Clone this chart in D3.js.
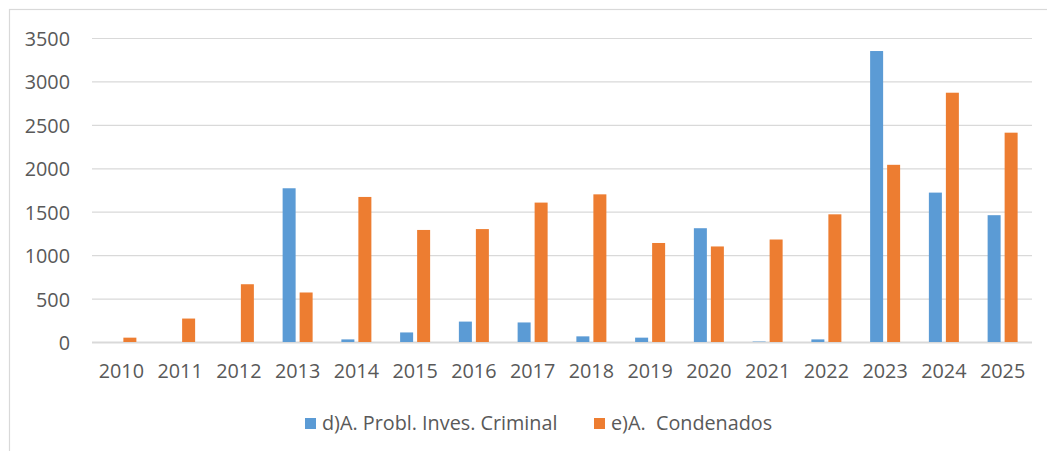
<!DOCTYPE html>
<html>
<head>
<meta charset="utf-8">
<script src="https://cdn.jsdelivr.net/npm/d3@7"></script>
<style>
  body { margin: 0; background: #fff; }
  text { font-family: "Open Sans", sans-serif; fill: #595959; }
</style>
</head>
<body>
<div id="chart"></div>
<script>

// years on the x axis
var years = ["2010", "2011", "2012", "2013", "2014", "2015", "2016", "2017",
             "2018", "2019", "2020", "2021", "2022", "2023", "2024", "2025"];

// d)A. Probl. Inves. Criminal
var problInves = [0, 0, 0, 1770, 30, 110, 235, 225, 65, 50, 1310, 5, 30, 3350, 1720, 1460];

// e)A.  Condenados
var condenados = [50, 270, 665, 570, 1670, 1290, 1300, 1605, 1700, 1140, 1100, 1180, 1470, 2040, 2870, 2410];

var seriesNames = ["d)A. Probl. Inves. Criminal", "e)A.  Condenados"];
var yTicks = [0, 500, 1000, 1500, 2000, 2500, 3000, 3500];

var colors = ["#5B9BD5", "#ED7D31"];

var width = 1047, height = 451;
var margin = { left: 92, right: 15, top: 38, bottom: 109 };
var fontSize = "19.8px";

var svg = d3.select("#chart")
  .append("svg")
  .attr("width", width)
  .attr("height", height);

// chart frame
svg.append("rect")
  .attr("x", 9.5).attr("y", 9.5)
  .attr("width", width + 20).attr("height", height + 20)
  .attr("fill", "none")
  .attr("stroke", "#d9d9d9")
  .attr("stroke-width", 1.2);

var x0 = d3.scaleBand()
  .domain(years)
  .range([margin.left, width - margin.right]);

var x1 = d3.scaleBand()
  .domain(seriesNames)
  .range([x0.bandwidth() / 2 - 15, x0.bandwidth() / 2 + 15])
  .paddingInner(4 / 17);

var y = d3.scaleLinear()
  .domain([0, 3500])
  .range([height - margin.bottom, margin.top]);

// y axis with gridlines
var yAxis = d3.axisLeft(y)
  .tickValues(yTicks)
  .tickSize(-(width - margin.left - margin.right))
  .tickPadding(22)
  .tickFormat(d3.format("d"));

var gy = svg.append("g")
  .attr("transform", "translate(" + margin.left + ",0)")
  .call(yAxis);
gy.select(".domain").remove();
gy.selectAll(".tick line")
  .attr("stroke", "#d9d9d9")
  .attr("stroke-width", function (d) { return d === 0 ? 1.8 : 1.2; });
gy.selectAll(".tick text")
  .attr("dy", "0.38em")
  .style("font-size", fontSize)
  .attr("fill", "#595959");

// bars
var data = years.map(function (yr, i) {
  return { year: yr, values: [problInves[i], condenados[i]] };
});

var groups = svg.append("g")
  .selectAll(".grp")
  .data(data).enter()
  .append("g")
  .attr("class", "grp")
  .attr("transform", function (d) { return "translate(" + x0(d.year) + ",0)"; });

groups.selectAll("rect")
  .data(function (d) {
    return d.values.map(function (v, k) { return { name: seriesNames[k], value: v, k: k }; });
  }).enter()
  .append("rect")
  .attr("x", function (d) { return x1(d.name); })
  .attr("y", function (d) { return y(d.value); })
  .attr("width", x1.bandwidth())
  .attr("height", function (d) { return y(0) - y(d.value); })
  .attr("fill", function (d) { return colors[d.k]; });

// x axis labels
var xAxis = d3.axisBottom(x0).tickSize(0).tickPadding(22);
var gx = svg.append("g")
  .attr("transform", "translate(0," + y(0) + ")")
  .call(xAxis);
gx.select(".domain").remove();
gx.selectAll(".tick text")
  .style("font-size", fontSize)
  .attr("fill", "#595959");

// legend
var legendItems = [
  { name: seriesNames[0], color: colors[0], x: 305 },
  { name: seriesNames[1], color: colors[1], x: 594 }
];

var legend = svg.append("g")
  .selectAll(".leg")
  .data(legendItems).enter()
  .append("g")
  .attr("class", "leg")
  .attr("transform", function (d) { return "translate(" + d.x + ",418)"; });

legend.append("rect")
  .attr("width", 11).attr("height", 11)
  .attr("fill", function (d) { return d.color; });

legend.append("text")
  .attr("x", 17)
  .attr("y", 12)
  .style("font-size", fontSize)
  .style("white-space", "pre")
  .attr("fill", "#595959")
  .text(function (d) { return d.name; });

</script>
</body>
</html>
